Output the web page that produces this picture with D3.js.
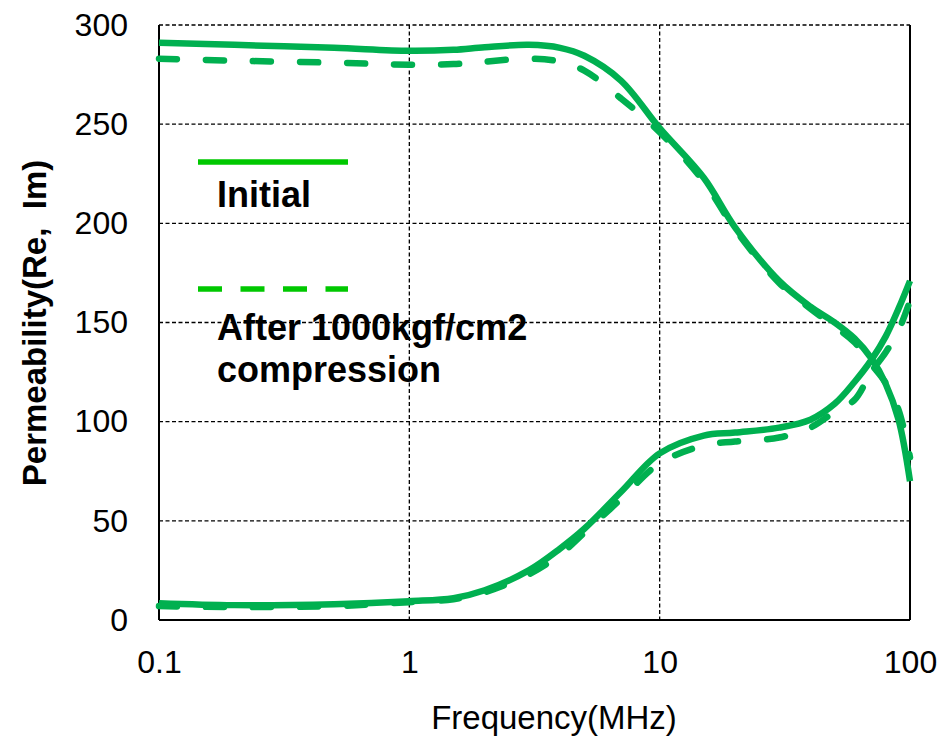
<!DOCTYPE html>
<html>
<head>
<meta charset="utf-8">
<script src="https://cdn.jsdelivr.net/npm/d3@7"></script>
<style>
  body { margin: 0; background: #fff; }
  text { font-family: Arial, 'Liberation Sans', sans-serif; fill: #000; }
</style>
</head>
<body>
<svg id="chart" width="945" height="736"></svg>
<script>
// data
var freq = [0.1, 0.2, 0.5, 1, 1.5, 2, 3, 4, 5, 7, 10, 15, 20, 30, 40, 50, 60, 70, 80, 90, 100]
var reInitial = [291, 290, 288.5, 287, 287.5, 288.8, 290, 288.5, 284.5, 272, 248, 223, 198, 171, 158, 150, 142, 132, 119, 101, 70]
var reCompressed = [283, 282, 281, 280, 280.3, 281.5, 283, 281.5, 277, 263, 246, 221, 197, 170, 157, 148, 140, 129, 119.5, 106, 82]
var imInitial = [8.5, 7.5, 8, 9.5, 11, 15, 25, 36, 46, 64.5, 84, 93, 94.5, 97, 101, 109, 120, 131, 143, 157, 171]
var imCompressed = [7, 6.5, 7, 9, 10.5, 14, 23, 33, 44, 61, 79, 88, 90, 92, 97, 105, 111, 125, 135, 146, 161]
var xTicks = [0.1, 1, 10, 100]
var yTicks = [0, 50, 100, 150, 200, 250, 300]

var lineColor = '#00b050'
var legendColor = '#00c800'

var svg = d3.select('#chart')
var plotLeft = 159
var plotRight = 910
var plotTop = 25
var plotBottom = 620

var x = d3.scaleLog().domain([0.1, 100]).range([plotLeft, plotRight])
var y = d3.scaleLinear().domain([0, 300]).range([plotBottom, plotTop])

// grid
svg.append('g').selectAll('line').data(yTicks.filter(function (d) { return d > 0 }))
  .enter().append('line')
  .attr('x1', plotLeft).attr('x2', plotRight)
  .attr('y1', function (d) { return y(d) }).attr('y2', function (d) { return y(d) })
  .attr('stroke', '#000').attr('stroke-width', 1.3).attr('stroke-dasharray', '4,2.5')
svg.append('g').selectAll('line').data(xTicks.slice(1, 3))
  .enter().append('line')
  .attr('x1', function (d) { return x(d) }).attr('x2', function (d) { return x(d) })
  .attr('y1', plotTop).attr('y2', plotBottom)
  .attr('stroke', '#000').attr('stroke-width', 1.3).attr('stroke-dasharray', '4,2.5')

// frame
svg.append('line').attr('x1', plotLeft).attr('x2', plotLeft).attr('y1', plotTop).attr('y2', plotBottom)
  .attr('stroke', '#000').attr('stroke-width', 2)
svg.append('line').attr('x1', plotRight).attr('x2', plotRight).attr('y1', plotTop).attr('y2', plotBottom)
  .attr('stroke', '#000').attr('stroke-width', 2)
svg.append('line').attr('x1', plotLeft).attr('x2', plotRight).attr('y1', plotBottom).attr('y2', plotBottom)
  .attr('stroke', '#000').attr('stroke-width', 2)

// axes labels
var xAxis = d3.axisBottom(x).tickValues(xTicks).tickSize(0).tickPadding(30)
  .tickFormat(function (d) { return String(d) })
var gx = svg.append('g').attr('transform', 'translate(0,' + plotBottom + ')').call(xAxis)
gx.select('.domain').remove()
gx.selectAll('text').attr('font-size', 32).attr('font-family', null)

var yAxis = d3.axisLeft(y).tickValues(yTicks).tickSize(0).tickPadding(31)
var gy = svg.append('g').attr('transform', 'translate(' + plotLeft + ',0)').call(yAxis)
gy.select('.domain').remove()
gy.selectAll('text').attr('font-size', 32).attr('font-family', null)

// curves
var line = d3.line()
  .x(function (d) { return x(d[0]) })
  .y(function (d) { return y(d[1]) })
  .curve(d3.curveCatmullRom)

function addCurve (values, dashed) {
  var p = svg.append('path')
    .datum(d3.zip(freq, values))
    .attr('d', line)
    .attr('fill', 'none')
    .attr('stroke', lineColor)
    .attr('stroke-width', 6.5)
    .attr('stroke-linecap', dashed ? 'round' : 'butt')
  if (dashed) p.attr('stroke-dasharray', '18,29')
}
addCurve(reCompressed, true)
addCurve(imCompressed, true)
addCurve(reInitial, false)
addCurve(imInitial, false)

// legend
svg.append('line').attr('x1', 198).attr('x2', 348).attr('y1', 162).attr('y2', 162)
  .attr('stroke', legendColor).attr('stroke-width', 5.5)
svg.append('line').attr('x1', 198).attr('x2', 348).attr('y1', 289).attr('y2', 289)
  .attr('stroke', legendColor).attr('stroke-width', 5.5).attr('stroke-dasharray', '24,18.5')
svg.append('text').attr('x', 217).attr('y', 207).attr('font-size', 36).attr('font-weight', 'bold')
  .text('Initial')
svg.append('text').attr('x', 217).attr('y', 340).attr('font-size', 36).attr('font-weight', 'bold')
  .text('After 1000kgf/cm2')
svg.append('text').attr('x', 217).attr('y', 382).attr('font-size', 36).attr('font-weight', 'bold')
  .text('compression')

// axis titles
svg.append('text').attr('x', 554).attr('y', 729).attr('text-anchor', 'middle')
  .attr('font-size', 33).text('Frequency(MHz)')
svg.append('text')
  .attr('transform', 'translate(46,323) rotate(-90)')
  .attr('text-anchor', 'middle').attr('font-size', 33).attr('font-weight', 'bold')
  .style('white-space', 'pre')
  .text('Permeability(Re,  Im)')
</script>
</body>
</html>
